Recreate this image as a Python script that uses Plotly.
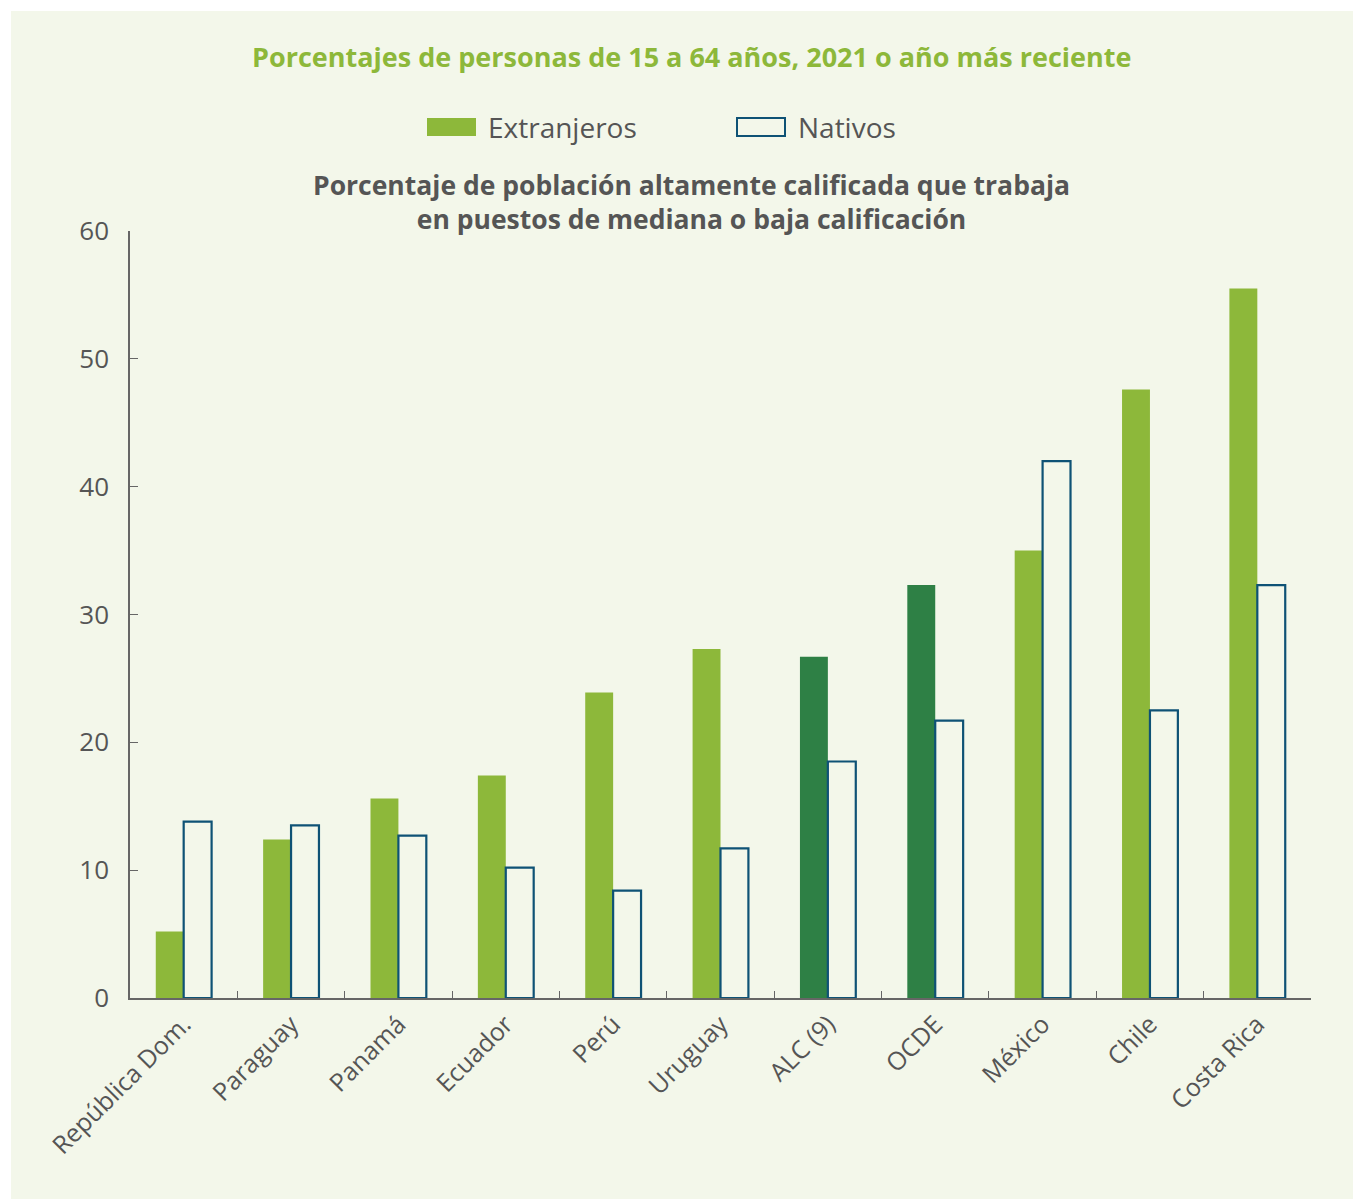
import plotly.graph_objects as go

categories = ["República Dom.", "Paraguay", "Panamá", "Ecuador", "Perú", "Uruguay",
              "ALC (9)", "OCDE", "México", "Chile", "Costa Rica"]
extranjeros = [5.2, 12.4, 15.6, 17.4, 23.9, 27.3, 26.7, 32.3, 35.0, 47.6, 55.5]
nativos = [13.8, 13.5, 12.7, 10.2, 8.4, 11.7, 18.5, 21.7, 42.0, 22.5, 32.3]
ext_colors = ["#8db83a"] * 6 + ["#2e8045"] * 2 + ["#8db83a"] * 3

BG = "#f3f7ea"
OFF = 8  # page body margin
W, H = 1361 - OFF, 1199 - OFF
L, R, T, B = 130 - OFF, 1311 - OFF, 231 - OFF, 998 - OFF


def px(x):
    return (x - OFF - L) / (R - L)


def py(y):
    return (B - (y - OFF)) / (B - T)


fig = go.Figure()
fig.add_trace(go.Bar(x=categories, y=extranjeros, name="Extranjeros",
                     marker=dict(color=ext_colors, line=dict(width=0))))
fig.add_trace(go.Bar(x=categories, y=nativos, name="Nativos",
                     marker=dict(color=BG, line=dict(color="#0e5275", width=2.2))))

font_family = "Open Sans, Lato, sans-serif"

shapes = [
    dict(type="rect", xref="paper", yref="paper", x0=px(11), x1=px(1400), y0=py(11), y1=py(1300),
         fillcolor=BG, line=dict(width=0), layer="below"),
    dict(type="rect", xref="paper", yref="paper", x0=px(427), x1=px(476), y0=py(118), y1=py(136),
         fillcolor="#8db83a", line=dict(width=0)),
    dict(type="rect", xref="paper", yref="paper", x0=px(737), x1=px(785), y0=py(118), y1=py(136),
         fillcolor=BG, line=dict(color="#0e5275", width=2)),
]

annotations = [
    dict(text="<b>Porcentajes de personas de 15 a 64 años, 2021 o año más reciente</b>",
         xref="paper", yref="paper", x=px(691), y=py(56), showarrow=False,
         font=dict(size=27, color="#8db83a", family=font_family), xanchor="center", yanchor="middle"),
    dict(text="Extranjeros", xref="paper", yref="paper", x=px(486), y=py(127), showarrow=False,
         font=dict(size=28, color="#555555", family=font_family), xanchor="left", yanchor="middle"),
    dict(text="Nativos", xref="paper", yref="paper", x=px(796), y=py(127), showarrow=False,
         font=dict(size=28, color="#555555", family=font_family), xanchor="left", yanchor="middle"),
    dict(text="<b>Porcentaje de población altamente calificada que trabaja<br>en puestos de mediana o baja calificación</b>",
         xref="paper", yref="paper", x=px(691), y=py(202), showarrow=False,
         font=dict(size=26.5, color="#555555", family=font_family), xanchor="center", yanchor="middle"),
]

fig.update_layout(
    width=W, height=H,
    margin=dict(l=L, r=W - R, t=T, b=H - B),
    paper_bgcolor="white", plot_bgcolor=BG,
    barmode="group", bargap=0.48, bargroupgap=0,
    showlegend=False,
    shapes=shapes, annotations=annotations,
    font=dict(family=font_family, color="#555555"),
    xaxis=dict(showline=True, linecolor="#666666", linewidth=1.5, ticks="inside",
               tickson="boundaries", ticklen=7, tickcolor="#666666", tickangle=-45,
               tickfont=dict(size=25, color="#555555"), showgrid=False, mirror=False),
    yaxis=dict(range=[0, 60], tickvals=[0, 10, 20, 30, 40, 50, 60], showline=True,
               linecolor="#666666", linewidth=1.5, ticks="inside", ticklen=8, tickcolor="#666666",
               tickfont=dict(size=26, color="#555555"), showgrid=False, zeroline=False,
               ticklabelstandoff=14),
)

fig.write_html("out.html")
